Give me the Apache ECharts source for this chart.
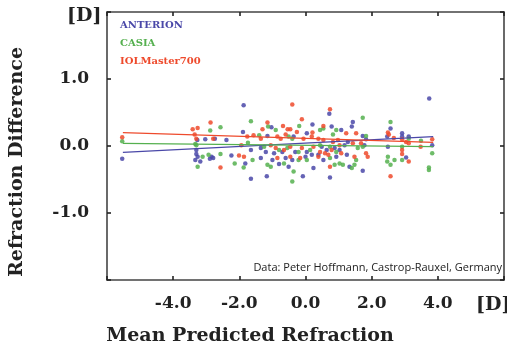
<!DOCTYPE html>
<html><head><meta charset="utf-8">
<script src="https://cdn.jsdelivr.net/npm/echarts@6/dist/echarts.min.js"></script>
<style>html,body{margin:0;padding:0;background:#fff}#c{width:507px;height:348px}</style>
</head><body><div id="c"></div>
<script>
const seriesNames = ['ANTERION', 'CASIA', 'IOLMaster700'];
const colors = ['#4a48a8', '#55b04f', '#ee4a2c'];
const xTicks = [-4, -2, 0, 2, 4];
const yTicks = [-1, 0, 1];

const anterion = [[-5.54,-0.19],[-3.27,0.09],[-3.30,-0.12],[-3.26,-0.16],[-3.30,-0.06],[-3.33,-0.21],
[-1.87,0.61],[-3.03,0.10],[-2.74,0.11],[-2.39,0.09],[-1.89,0.21],[-1.65,-0.06],[-2.84,-0.16],[-2.79,-0.18],[-2.89,-0.19],[-2.24,-0.14],[-1.82,-0.26],[-1.65,-0.49],[-3.18,-0.23],
[-1.03,0.28],[0.21,0.32],[-1.15,0.15],[-0.36,0.14],[0.04,0.19],[-1.35,-0.03],[-1.20,-0.09],[-0.95,-0.11],[-0.70,-0.09],[-0.31,-0.09],[0.04,-0.09],[-1.35,-0.18],[-1.00,-0.21],[-0.80,-0.27],[-0.60,-0.18],[-0.40,-0.21],[0.00,-0.16],[0.19,-0.13],[-0.51,-0.31],[-1.17,-0.45],[-0.08,-0.45],[0.24,-0.33],
[0.72,0.48],[1.43,0.36],[1.40,0.29],[0.79,0.29],[1.08,0.24],[1.73,0.15],[1.83,0.10],[0.49,-0.01],[0.64,-0.06],[0.88,-0.03],[1.03,-0.06],[1.18,0.01],[1.28,0.06],[1.78,0.01],[0.54,-0.21],[0.93,-0.16],[1.25,-0.13],[0.39,-0.13],[1.33,-0.31],[1.73,-0.37],[0.74,-0.47],
[3.74,0.71],[2.57,0.26],[2.47,0.14],[2.92,0.19],[2.92,0.14],[3.12,0.14],[3.83,0.01],[2.49,-0.01],[3.04,-0.17]];

const casia = [[-5.54,0.07],[-3.33,0.03],[-3.30,0.01],[-3.26,-0.31],
[-2.57,0.28],[-1.65,0.37],[-2.88,0.23],[-1.74,0.05],[-3.11,-0.16],[-2.93,-0.13],[-2.57,-0.12],[-2.14,-0.26],[-1.60,-0.21],[-1.87,-0.32],
[-1.13,0.29],[-0.90,0.24],[-0.19,0.30],[-1.40,0.16],[-0.51,0.14],[-0.40,0.11],[-1.25,-0.01],[-0.80,-0.06],[-0.55,-0.03],[-0.21,-0.09],[0.14,-0.06],[-1.15,-0.28],[-1.05,-0.31],[-0.65,-0.26],[-0.21,-0.21],[0.04,-0.21],[-0.36,-0.38],[-0.40,-0.53],
[1.73,0.42],[0.44,0.24],[0.54,0.26],[0.93,0.24],[0.83,0.17],[1.83,0.15],[0.44,0.01],[0.74,-0.01],[0.93,-0.09],[1.58,-0.03],[1.73,-0.01],[0.74,-0.18],[1.03,-0.26],[1.53,-0.21],[0.88,-0.28],[1.13,-0.28],[1.48,-0.28],[1.40,-0.33],
[2.57,0.36],[3.12,0.11],[3.49,0.08],[2.92,-0.01],[3.83,-0.11],[2.49,-0.16],[2.47,-0.23],[2.57,-0.28],[2.69,-0.21],[2.92,-0.21],[3.73,-0.32],[3.73,-0.36]];

const iolmaster = [[-5.54,0.13],[-3.41,0.25],[-3.26,0.27],[-3.35,0.17],[-3.30,0.11],
[-2.87,0.35],[-2.79,0.11],[-1.76,0.14],[-1.57,0.16],[-1.94,0.01],[-2.01,-0.14],[-1.86,-0.16],[-2.57,-0.32],
[-0.40,0.62],[-1.15,0.35],[-1.30,0.25],[-0.68,0.30],[-0.54,0.25],[-0.46,0.25],[-0.11,0.40],[-0.26,0.21],[0.21,0.20],[-1.35,0.11],[-0.85,0.14],[-0.75,0.11],[-0.60,0.17],[-0.06,0.11],[0.19,0.14],[-1.05,0.01],[-0.90,-0.03],[-0.65,-0.06],[-0.46,-0.01],[-0.11,-0.03],[0.24,-0.01],[-0.85,-0.18],[-0.46,-0.16],[-0.16,-0.18],
[0.74,0.55],[0.54,0.30],[1.23,0.19],[1.53,0.19],[0.39,0.11],[0.54,0.09],[0.83,0.06],[0.98,0.09],[1.03,0.01],[1.43,0.04],[1.68,0.04],[0.44,-0.09],[0.59,-0.11],[0.79,-0.06],[1.08,-0.11],[1.83,-0.11],[0.39,-0.16],[0.69,-0.13],[1.48,-0.16],[1.88,-0.16],[0.74,-0.31],
[2.49,0.20],[2.52,0.17],[2.67,0.12],[2.92,0.10],[3.04,0.06],[3.12,0.04],[3.83,0.10],[3.48,-0.01],[2.92,-0.06],[2.92,-0.12],[3.12,-0.23],[2.57,-0.45]];

const fitX = [-5.52, 3.86];
const fitAnterion = [-0.094, 0.14];
const fitCasia = [0.04, -0.01];
const fitIolmaster = [0.20, 0.055];

const scatterData = [anterion, casia, iolmaster];
const fitData = [fitAnterion, fitCasia, fitIolmaster];

const serif = '"DejaVu Serif", "Liberation Serif", serif';
const axisCol = '#444';

const series = [];
for (let i = 0; i < 3; i++) {
  series.push({
    name: seriesNames[i], type: 'scatter', data: scatterData[i],
    symbolSize: 4.5, itemStyle: { color: colors[i], opacity: 0.85 }, z: 3
  });
}
for (let i = 0; i < 3; i++) {
  series.push({
    name: seriesNames[i], type: 'line', data: fitX.map((x, k) => [x, fitData[i][k]]),
    symbol: 'none', lineStyle: { color: colors[i], width: 1.3 }, z: 4
  });
}

const chart = echarts.init(document.getElementById('c'));
const fmtX = v => xTicks.includes(v) ? v.toFixed(1) : '';
const fmtY = v => yTicks.includes(v) ? v.toFixed(1) : '';
chart.setOption({
  animation: false,
  backgroundColor: '#fff',
  grid: { left: 107, top: 12, right: -3, bottom: 68 },
  legend: {
    orient: 'vertical', left: 110, top: 15, itemWidth: 0, itemHeight: 0, itemGap: 8,
    data: seriesNames.map((n, i) => ({ name: n, icon: 'rect', textStyle: { color: colors[i] } })),
    textStyle: { fontFamily: serif, fontWeight: 'bold', fontSize: 10 }
  },
  xAxis: [
    { type: 'value', min: -6, max: 6, interval: 2, position: 'bottom',
      axisLine: { show: true, onZero: false, lineStyle: { color: axisCol, width: 1.6 } },
      axisTick: { show: true, inside: true, length: 4, lineStyle: { color: '#222', width: 1.6 } },
      axisLabel: { formatter: fmtX, margin: 15, color: '#222', fontFamily: serif, fontWeight: 'bold', fontSize: 17 },
      splitLine: { show: false } },
    { type: 'value', min: -6, max: 6, interval: 2, position: 'top',
      axisLine: { show: true, onZero: false, lineStyle: { color: axisCol, width: 1.6 } },
      axisTick: { show: true, inside: true, length: 4, lineStyle: { color: '#222', width: 1.6 } },
      axisLabel: { show: false }, splitLine: { show: false } }
  ],
  yAxis: [
    { type: 'value', min: -2, max: 2, interval: 1, position: 'left',
      axisLine: { show: true, onZero: false, lineStyle: { color: axisCol, width: 1.6 } },
      axisTick: { show: true, inside: true, length: 4, lineStyle: { color: '#222', width: 1.6 } },
      axisLabel: { formatter: fmtY, margin: 18, color: '#222', fontFamily: serif, fontWeight: 'bold', fontSize: 17 },
      splitLine: { show: false } },
    { type: 'value', min: -2, max: 2, interval: 1, position: 'right',
      axisLine: { show: true, onZero: false, lineStyle: { color: axisCol, width: 1.6 } },
      axisTick: { show: true, inside: true, length: 4, lineStyle: { color: '#222', width: 1.6 } },
      axisLabel: { show: false }, splitLine: { show: false } }
  ],
  series: series,
  graphic: [
    { type: 'text', left: 67, top: 7, style: { text: '[D]', fill: '#222', font: 'bold 19px ' + serif } },
    { type: 'text', left: 476, top: 296, style: { text: '[D]', fill: '#222', font: 'bold 19px ' + serif } },
    { type: 'text', x: 250, y: 336, style: { text: 'Mean Predicted Refraction', fill: '#222', font: 'bold 19px ' + serif, align: 'center', verticalAlign: 'middle' } },
    { type: 'text', x: 17, y: 162, rotation: Math.PI / 2, style: { text: 'Refraction Difference', fill: '#222', font: 'bold 19px ' + serif, align: 'center', verticalAlign: 'middle' } },
    { type: 'text', x: 502, y: 268, style: { text: 'Data: Peter Hoffmann, Castrop-Rauxel, Germany', fill: '#222', font: '11px "Open Sans", sans-serif', align: 'right', verticalAlign: 'middle' } }
  ]
});
</script></body></html>
